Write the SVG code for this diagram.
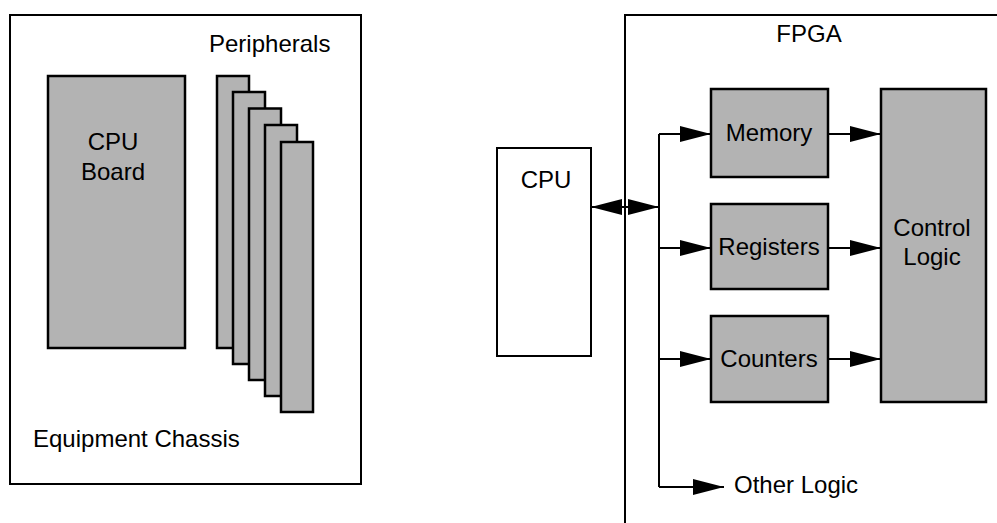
<svg xmlns="http://www.w3.org/2000/svg" width="997" height="523" viewBox="0 0 997 523">
<style>
text{font-family:"Liberation Sans",Arial,sans-serif;font-size:24px;fill:#000}
.frame{fill:#fff;stroke:#000;stroke-width:2}
.blk{fill:#b3b3b3;stroke:#000;stroke-width:2.5}
.wire{fill:none;stroke:#000;stroke-width:2}
.c{text-anchor:middle}
</style>
<defs>
<marker id="ah" markerUnits="userSpaceOnUse" markerWidth="31" markerHeight="16" refX="31" refY="8" orient="auto" overflow="visible">
<path d="M0,0 L31,8 L0,16 z" fill="#000"/>
</marker>
</defs>
<rect width="997" height="523" fill="#fff"/>
<g id="chassis">
<rect class="frame" x="10" y="15" width="351" height="469"/>
<text x="33" y="447">Equipment Chassis</text>
</g>
<g id="cpu-board">
<rect class="blk" x="48" y="76" width="137" height="272"/>
<text class="c" x="113" y="150">CPU</text>
<text class="c" x="113" y="180">Board</text>
</g>
<g id="peripherals">
<rect class="blk" x="217" y="76" width="32" height="272"/>
<rect class="blk" x="233" y="92" width="32" height="272"/>
<rect class="blk" x="249" y="108.5" width="32" height="271.5"/>
<rect class="blk" x="265" y="125" width="32" height="271"/>
<rect class="blk" x="281" y="142" width="32" height="270"/>
<text x="209" y="52">Peripherals</text>
</g>
<g id="fpga">
<path class="wire" d="M625,523 V15 H997"/>
<text class="c" x="809" y="42">FPGA</text>
</g>
<g id="cpu">
<rect class="frame" x="497" y="148" width="94" height="208"/>
<text class="c" x="546" y="188">CPU</text>
</g>
<g id="memory">
<rect class="blk" x="711" y="89" width="117" height="88"/>
<text class="c" x="769" y="141">Memory</text>
</g>
<g id="registers">
<rect class="blk" x="711" y="204" width="117" height="85"/>
<text class="c" x="769" y="255">Registers</text>
</g>
<g id="counters">
<rect class="blk" x="711" y="316" width="117" height="86"/>
<text class="c" x="769" y="367">Counters</text>
</g>
<g id="control-logic">
<rect class="blk" x="881" y="89" width="105" height="313"/>
<text class="c" x="932" y="236">Control</text>
<text class="c" x="932" y="265">Logic</text>
</g>
<g id="other-logic">
<text x="734" y="493">Other Logic</text>
</g>
<g id="connectors">
<path class="wire" d="M659,134 V487"/>
<line class="wire" x1="618" y1="207" x2="591" y2="207" marker-end="url(#ah)"/>
<line class="wire" x1="618" y1="207" x2="659" y2="207" marker-end="url(#ah)"/>
<line class="wire" x1="659" y1="134" x2="711" y2="134" marker-end="url(#ah)"/>
<line class="wire" x1="659" y1="248" x2="711" y2="248" marker-end="url(#ah)"/>
<line class="wire" x1="659" y1="359" x2="711" y2="359" marker-end="url(#ah)"/>
<line class="wire" x1="659" y1="487" x2="724" y2="487" marker-end="url(#ah)"/>
<line class="wire" x1="828" y1="134" x2="881" y2="134" marker-end="url(#ah)"/>
<line class="wire" x1="828" y1="248" x2="881" y2="248" marker-end="url(#ah)"/>
<line class="wire" x1="828" y1="359" x2="881" y2="359" marker-end="url(#ah)"/>
</g>
</svg>
